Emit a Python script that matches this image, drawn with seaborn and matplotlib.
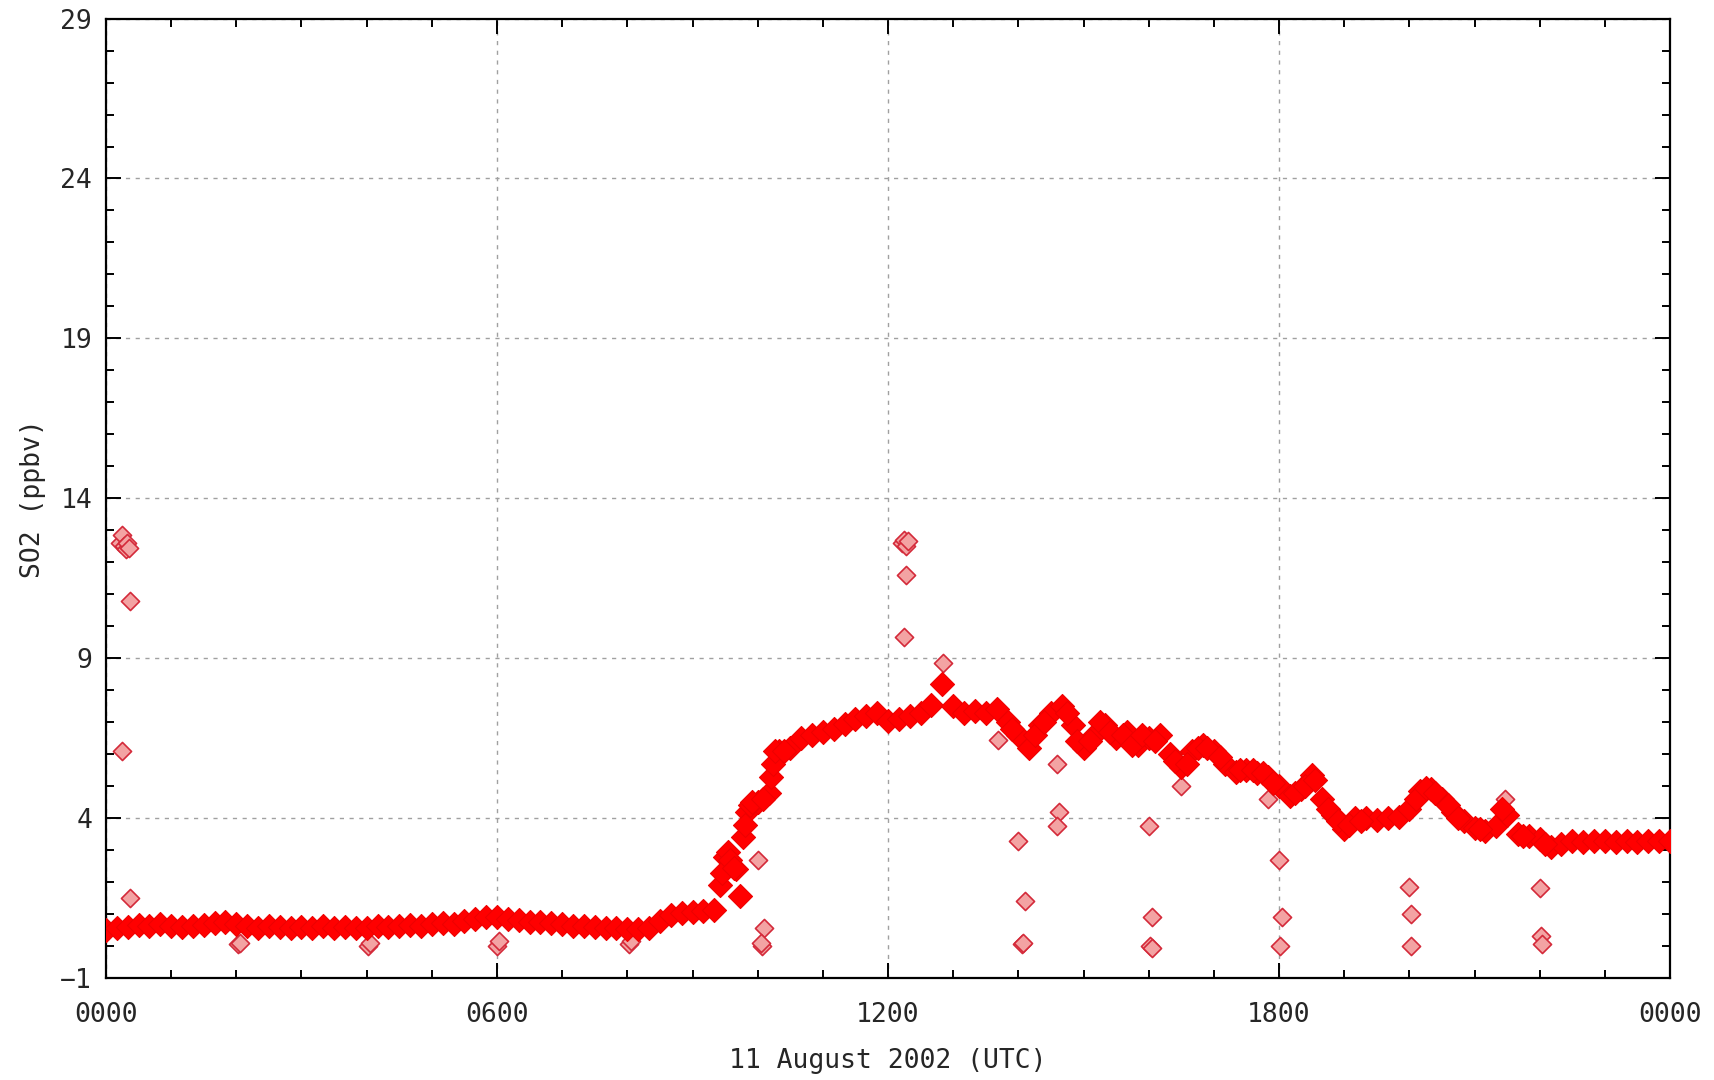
import numpy as np
import pandas as pd
import matplotlib
matplotlib.use("Agg")
import matplotlib.pyplot as plt
import seaborn as sns
from matplotlib.ticker import MultipleLocator, FixedLocator

sns.set_theme(style="ticks")
plt.rcParams['font.family'] = ['DejaVu Sans Mono', 'DejaVu Sans']

# SO2 readings every 10 minutes (hours since 0000 UTC)
band_hours = [m / 60 for m in range(0, 1441, 10)]
band_so2 = [
    0.50, 0.55, 0.60, 0.65, 0.62, 0.68,   # 00
    0.62, 0.60, 0.64, 0.66, 0.72, 0.74,   # 01
    0.70, 0.62, 0.58, 0.62, 0.60, 0.58,   # 02
    0.60, 0.56, 0.62, 0.58, 0.60, 0.56,   # 03
    0.58, 0.62, 0.60, 0.64, 0.66, 0.62,   # 04
    0.68, 0.72, 0.70, 0.78, 0.86, 0.90,   # 05
    0.92, 0.84, 0.80, 0.76, 0.74, 0.72,   # 06
    0.68, 0.64, 0.62, 0.60, 0.58, 0.56,   # 07
    0.54, 0.52, 0.58, 0.78, 0.98, 1.04,   # 08
    1.08, 1.10, 1.12, 2.80, 2.40, 4.20,   # 09
    4.50, 4.80, 6.10, 6.20, 6.50, 6.60,   # 10
    6.70, 6.80, 6.95, 7.10, 7.20, 7.30,   # 11
    7.05, 7.10, 7.20, 7.30, 7.55, 8.20,   # 12
    7.50, 7.30, 7.35, 7.30, 7.40, 7.00,   # 13
    6.60, 6.20, 6.90, 7.30, 7.50, 6.90,   # 14
    6.20, 6.60, 6.90, 6.50, 6.70, 6.30,   # 15
    6.50, 6.60, 6.00, 5.60, 6.10, 6.30,   # 16
    6.10, 5.70, 5.45, 5.50, 5.40, 5.30,   # 17
    5.00, 4.70, 4.90, 5.35, 4.60, 4.10,   # 18
    3.65, 4.00, 4.00, 3.95, 4.00, 4.05,   # 19
    4.30, 4.85, 4.90, 4.60, 4.20, 3.90,   # 20
    3.70, 3.60, 3.75, 4.10, 3.50, 3.45,   # 21
    3.35, 3.10, 3.20, 3.30, 3.25, 3.30,   # 22
    3.30, 3.25, 3.30, 3.25, 3.30, 3.30,   # 23
    3.30,
]

# extra readings where the trace is steep or noisy
extra_hours = [9.42, 9.45, 9.55, 9.58, 9.63, 9.73, 9.78, 9.80, 9.88, 9.92,
               10.08, 10.20, 10.23, 10.27, 10.40,
               13.90, 14.25, 14.40, 14.75, 14.90, 15.10, 15.25, 15.40, 15.60,
               15.75, 15.90, 16.10, 16.40, 16.58, 16.75, 16.90, 17.10, 17.40,
               17.60, 17.75, 17.90, 18.25, 18.40, 18.55, 18.75, 18.90, 19.08,
               19.25, 20.10, 20.25, 20.40, 20.60, 20.75, 21.08, 21.42, 21.75,
               22.08]
extra_so2 = [1.9, 2.3, 2.95, 2.7, 2.45, 1.55, 3.4, 3.8, 4.4, 4.5,
             4.6, 5.3, 5.7, 6.1, 6.1,
             6.8, 6.6, 7.0, 7.3, 6.4, 6.4, 7.0, 6.7, 6.6,
             6.3, 6.6, 6.4, 5.8, 5.7, 6.2, 6.2, 5.9, 5.5,
             5.5, 5.4, 5.1, 4.8, 5.0, 5.2, 4.3, 3.9, 3.8,
             3.9, 4.6, 4.95, 4.8, 4.4, 4.0, 3.65, 4.3, 3.45,
             3.2]

# isolated readings (calibration spikes and zero checks)
spike_hours = [0.22, 0.25, 0.27, 0.30, 0.32, 0.35, 0.37, 0.24, 0.37,
               12.22, 12.25, 12.28, 12.30, 12.27, 12.25, 12.84,
               2.03, 2.05, 4.02, 4.05, 6.00, 6.03, 8.02, 8.05,
               9.62, 9.75, 10.00, 10.10, 10.07, 10.05,
               13.68, 14.00, 14.10, 14.05, 14.07, 14.60, 14.62, 14.60,
               16.00, 16.05, 16.02, 16.05, 16.50, 17.83,
               18.00, 18.05, 18.02, 20.00, 20.02, 20.02,
               21.46, 22.00, 22.02, 22.03]
spike_so2 = [12.6, 12.85, 12.5, 12.4, 12.6, 12.45, 10.8, 6.1, 1.5,
             12.6, 12.7, 12.5, 12.65, 11.6, 9.65, 8.85,
             0.05, 0.10, 0.00, 0.10, 0.00, 0.15, 0.05, 0.15,
             2.5, 1.6, 2.7, 0.55, 0.00, 0.10,
             6.45, 3.3, 1.4, 0.05, 0.10, 5.7, 4.2, 3.75,
             3.75, 0.9, 0.00, -0.05, 5.0, 4.6,
             2.7, 0.9, 0.00, 1.85, 1.0, 0.00,
             4.6, 1.8, 0.30, 0.05]

xtick_pos = [0, 6, 12, 18, 24]
xtick_labels = ["0000", "0600", "1200", "1800", "0000"]
ytick_pos = [-1, 4, 9, 14, 19, 24, 29]

band = pd.DataFrame({"hour": band_hours + extra_hours,
                     "so2": band_so2 + extra_so2})
spikes = pd.DataFrame({"hour": spike_hours, "so2": spike_so2})

fig = plt.figure(figsize=(17.15, 10.8), dpi=100)
ax = fig.add_axes([0.0618, 0.0944, 0.912, 0.8884])

sns.scatterplot(data=spikes, x="hour", y="so2", marker="D", s=85,
                facecolor="#f3a3a3", edgecolor="#d42a3a", linewidth=1.2,
                ax=ax, zorder=3)
sns.scatterplot(data=band, x="hour", y="so2", marker="D", s=150,
                facecolor="#ff0000", edgecolor="#ee0000", linewidth=0.8,
                ax=ax, zorder=4)

ax.set_xlim(0, 24)
ax.set_ylim(-1, 29)
ax.xaxis.set_major_locator(FixedLocator(xtick_pos))
ax.set_xticklabels(xtick_labels)
ax.xaxis.set_minor_locator(MultipleLocator(1))
ax.yaxis.set_major_locator(FixedLocator(ytick_pos))
ax.yaxis.set_minor_locator(MultipleLocator(1))

ax.grid(True, which="major", color="#a0a0a0", linestyle=(0, (3, 4)), linewidth=1.0)
ax.set_axisbelow(True)
ax.tick_params(which="both", direction="in", top=True, right=True,
               color="black", labelsize=19)
ax.tick_params(axis="x", pad=17)
ax.tick_params(axis="y", pad=10)
ax.tick_params(which="major", length=11, width=1.4)
ax.tick_params(which="minor", length=6, width=1.4)
for sp in ax.spines.values():
    sp.set_color("black")
    sp.set_linewidth(1.6)

ax.set_xlabel("11 August 2002 (UTC)", fontsize=19, labelpad=15)
ax.set_ylabel("SO2 (ppbv)", fontsize=19, labelpad=10)

fig.savefig("out.png", dpi=100, facecolor="white")
